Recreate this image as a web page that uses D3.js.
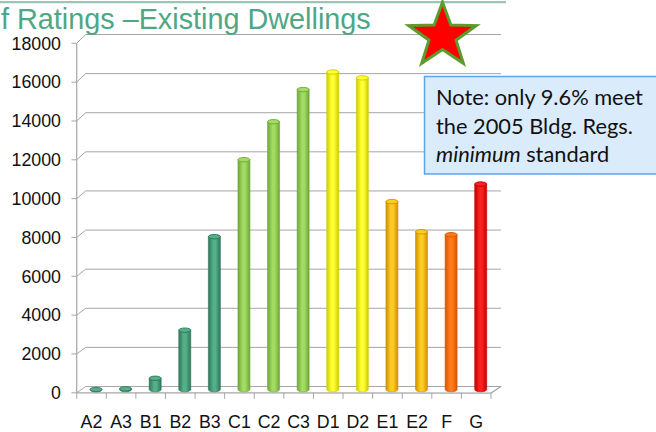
<!DOCTYPE html>
<html><head><meta charset="utf-8">
<script src="https://cdn.jsdelivr.net/npm/d3@7"></script>
<style>html,body{margin:0;padding:0;background:#fff;overflow:hidden}</style>
</head><body>
<svg id="c" width="656" height="432"></svg>
<script>
const categories = ["A2","A3","B1","B2","B3","C1","C2","C3","D1","D2","E1","E2","F","G"];
const dwellings = [5,40,580,3050,7850,11800,13750,15400,16300,16000,9650,8100,7950,10550];
const yTicks = [0,2000,4000,6000,8000,10000,12000,14000,16000,18000];
const titleText = "f Ratings \u2013Existing Dwellings";
const noteLines = ["Note: only 9.6% meet","the 2005 Bldg. Regs."];

// styles (separate from data)
const barColors = {A:["#2d7656","#55b08a"],B:["#2d7656","#55b08a"],C:["#6fa63a","#a2dc62"],D:["#cccc00","#ffff33"],E:["#cc9200","#ffcc22"],F:["#d65600","#ff7a1a"],G:["#c40000","#ff2020"]};

const svg = d3.select("#c");
const defs = svg.append("defs");
Object.entries(barColors).forEach(([k,[dk,lt]])=>{
  const g = defs.append("linearGradient").attr("id","g"+k).attr("x1","0").attr("x2","1").attr("y1","0").attr("y2","0");
  g.append("stop").attr("offset","0").attr("stop-color",dk);
  g.append("stop").attr("offset","0.4").attr("stop-color",lt);
  g.append("stop").attr("offset","0.6").attr("stop-color",lt);
  g.append("stop").attr("offset","1").attr("stop-color",dk);
});

// 3D geometry: front plane and back plane
const xFront = d3.scaleBand().domain(categories).range([76.7,491]).paddingInner(0).paddingOuter(0);
const dx = 9;
const yFront = d3.scaleLinear().domain([0,18000]).range([392.8,43.3]);
const yBack  = d3.scaleLinear().domain([0,18000]).range([386.5,34.5]);
const yMid   = d3.scaleLinear().domain([0,18000]).range([389.6,38.9]);

const grid = "#a6a6a6";
// top decorative line
svg.append("line").attr("x1",0).attr("x2",506).attr("y1",2.2).attr("y2",2.2).attr("stroke","#9cc5b5").attr("stroke-width",2.2);

// back wall gridlines with diagonal from front tick
const gl = svg.append("g");
yTicks.forEach(v=>{
  gl.append("path").attr("d",`M${76.7},${yFront(v)}L${76.7+dx},${yBack(v)}L${501},${yBack(v)}`)
    .attr("fill","none").attr("stroke",grid).attr("stroke-width",1);
  gl.append("line").attr("x1",71.5).attr("x2",76.7).attr("y1",yFront(v)).attr("y2",yFront(v)).attr("stroke",grid);
});
// front vertical axis line
svg.append("line").attr("x1",76.7).attr("x2",76.7).attr("y1",yFront(18000)).attr("y2",yFront(0)).attr("stroke",grid).attr("stroke-width",1.2);
// floor
svg.append("path").attr("d",`M76.7,${yFront(0)}L491,${yFront(0)+0.3}L501,${yBack(0)}`).attr("fill","none").attr("stroke",grid).attr("stroke-width",1.2);
// category ticks
const bounds = categories.map(c=>xFront(c)).concat([491]);
bounds.forEach(x=>svg.append("line").attr("x1",x).attr("x2",x).attr("y1",yFront(0)).attr("y2",yFront(0)+6).attr("stroke",grid));

// y labels
svg.append("g").selectAll("text").data(yTicks).join("text")
  .attr("x",61).attr("y",d=>yFront(d)).attr("dy","0.35em").attr("text-anchor","end")
  .attr("font-family","Liberation Sans, Arial, sans-serif").attr("font-size",17.8).attr("fill","#111")
  .text(d=>d);
// x labels
svg.append("g").selectAll("text").data(categories).join("text")
  .attr("x",d=>xFront(d)+xFront.bandwidth()/2).attr("y",428).attr("text-anchor","middle")
  .attr("font-family","Liberation Sans, Arial, sans-serif").attr("font-size",17.8).attr("fill","#111")
  .text(d=>d);

// bars (cylinders)
const bw = 12, ry = 2.2;
const bars = svg.append("g");
categories.forEach((c,i)=>{
  const cx = xFront(c)+xFront.bandwidth()/2 + dx/2;
  const y0 = yMid(0), y1 = yMid(dwellings[i]);
  const k = c[0];
  const [dk,lt] = barColors[k];
  const g = bars.append("g");
  g.append("path").attr("d",`M${cx-bw/2},${y1}L${cx-bw/2},${y0}A${bw/2},${ry} 0 0 0 ${cx+bw/2},${y0}L${cx+bw/2},${y1}Z`)
    .attr("fill",`url(#g${k})`).attr("stroke",dk).attr("stroke-width",0.6);
  g.append("ellipse").attr("cx",cx).attr("cy",y1).attr("rx",bw/2).attr("ry",ry)
    .attr("fill",lt).attr("stroke",dk).attr("stroke-width",0.9);
});

// title
svg.append("text").attr("x",1).attr("y",29).attr("font-family","Liberation Sans, Arial, sans-serif")
  .attr("font-size",28.8).attr("fill","#4ea784").text(titleText);

// star
const scx = 442.5, scy = 36, R = 35.5, r = 35.5*0.40;
const pts = d3.range(10).map(j=>{const a=-Math.PI/2 + j*Math.PI/5; const rr = j%2?r:R; return [scx+rr*Math.cos(a), scy+rr*Math.sin(a)*0.95];});
svg.append("path").attr("d",d3.line()(pts)+"Z").attr("fill","#ff0000").attr("stroke","#5e9a2c").attr("stroke-width",3).attr("stroke-linejoin","miter");

// note box
svg.append("rect").attr("x",424.5).attr("y",76.5).attr("width",240).attr("height",97.5)
  .attr("fill","#daebfc").attr("stroke","#5da3ea").attr("stroke-width",1.5);
const nf = "Lato, 'Open Sans', sans-serif";
const nt = svg.append("g").attr("font-family",nf).attr("font-size",21.8).attr("fill","#111");
nt.append("text").attr("x",436).attr("y",105).text(noteLines[0]);
nt.append("text").attr("x",436).attr("y",133.5).text(noteLines[1]);
const t3 = nt.append("text").attr("x",436).attr("y",162);
t3.append("tspan").attr("font-style","italic").text("minimum");
t3.append("tspan").text(" standard");
</script>
</body></html>
